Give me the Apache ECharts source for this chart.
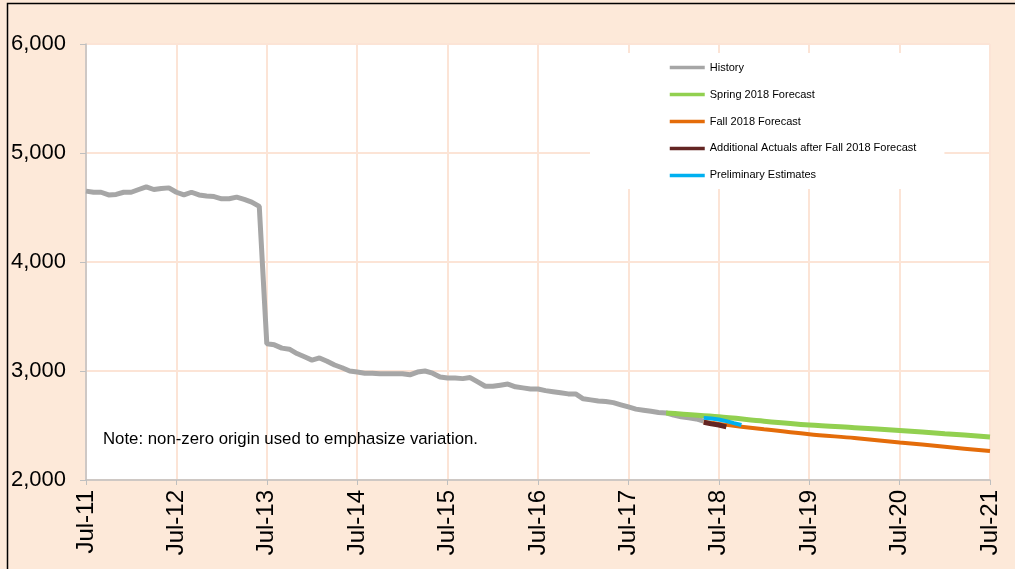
<!DOCTYPE html>
<html>
<head>
<meta charset="utf-8">
<script src="https://cdn.jsdelivr.net/npm/echarts@6/dist/echarts.min.js"></script>
<style>
html,body{margin:0;padding:0;background:#fde9d9;}
#main{width:1015px;height:569px;}
</style>
</head>
<body>
<div id="main"></div>
<script>
// month index: 0 = Jul-11, 12 = Jul-12, ...
var yearTicks = ['Jul-11','Jul-12','Jul-13','Jul-14','Jul-15','Jul-16','Jul-17','Jul-18','Jul-19','Jul-20','Jul-21'];

var historyValues = [
	4650,4640,4640,4615,4620,4640,4640,4665,4690,4665,4675,4680,
	4640,4615,4640,4615,4605,4600,4580,4580,4595,4575,4550,4510,
	3250,3240,3210,3200,3160,3130,3100,3120,3090,3055,3030,3000,
	2990,2980,2980,2975,2975,2975,2975,2965,2990,3000,2980,2945,
	2935,2935,2930,2940,2900,2860,2860,2870,2880,2855,2845,2835,
	2835,2820,2810,2800,2790,2790,2745,2735,2725,2720,2710,2690,
	2670,2650,2640,2630,2620,2615,2595,2580,2570,2560,2540
];

var springMonths = [77, 84, 90, 96, 102, 108, 114, 120];
var springValues = [2615, 2580, 2540, 2505, 2480, 2455, 2425, 2395];

var fallMonths = [82, 84, 90, 96, 102, 108, 114, 120];
var fallValues = [2535, 2515, 2465, 2420, 2385, 2345, 2305, 2265];

var actualsMonths = [82, 83, 84, 85];
var actualsValues = [2530, 2515, 2505, 2488];

var prelimMonths = [82, 83, 84, 85, 86, 87];
var prelimValues = [2570, 2565, 2555, 2540, 2522, 2505];

function pairs(months, values){
	var out = [];
	for(var i=0;i<values.length;i++){
		out.push([months ? months[i] : i, values[i]]);
	}
	return out;
}

var gridColor = '#fce4d6';
var axisColor = '#bfbfbf';

var option = {
	backgroundColor: '#fde9d9',
	animation: false,
	textStyle: {fontFamily: 'Liberation Sans, Arial, sans-serif'},
	grid: {
		left: 86, right: 25, top: 44, bottom: 89,
		show: true, backgroundColor: '#ffffff', borderWidth: 0
	},
	legend: {
		orient: 'vertical',
		left: 590, top: 53,
		padding: [9, 28, 8, 78],
		backgroundColor: '#ffffff',
		itemWidth: 35, itemHeight: 14, itemGap: 15.75,
		itemStyle: {opacity: 0},
		lineStyle: {width: 3.5},
		textStyle: {fontSize: 11, color: '#000'},
		data: ['History','Spring 2018 Forecast','Fall 2018 Forecast','Additional Actuals after Fall 2018 Forecast','Preliminary Estimates']
	},
	xAxis: {
		type: 'value',
		min: 0, max: 120, interval: 12,
		axisLine: {lineStyle: {color: axisColor, width: 1.5}},
		axisTick: {show: true, length: 5, lineStyle: {color: axisColor}},
		splitLine: {show: true, lineStyle: {color: gridColor, width: 2}},
		axisLabel: {
			rotate: 90, margin: 10, fontSize: 24, color: '#000',
			formatter: function(v){ return yearTicks[v/12]; }
		}
	},
	yAxis: {
		type: 'value',
		min: 2000, max: 6000, interval: 1000,
		axisLine: {show: true, lineStyle: {color: axisColor, width: 1.5}},
		axisTick: {show: true, length: 6, lineStyle: {color: axisColor}},
		splitLine: {show: true, lineStyle: {color: gridColor, width: 2}},
		axisLabel: {
			margin: 20, fontSize: 22, color: '#000',
			formatter: function(v){ return v.toLocaleString('en-US'); }
		}
	},
	graphic: [
		{type: 'text', left: 103, top: 431, z: 10,
		 style: {text: 'Note: non-zero origin used to emphasize variation.', fontSize: 16.8, fill: '#000', fontFamily: 'Liberation Sans, Arial, sans-serif'}},
		{type: 'rect', shape: {x: 7.5, y: 3.5, width: 1030, height: 600}, z: 100, silent: true,
		 style: {fill: 'none', stroke: '#000', lineWidth: 1.5}}
	],
	series: [
		{name: 'History', type: 'line', symbol: 'none', data: pairs(null, historyValues),
		 lineStyle: {color: '#a6a6a6', width: 5}, itemStyle: {color: '#a6a6a6'}},
		{name: 'Spring 2018 Forecast', type: 'line', symbol: 'none', smooth: 0.3, data: pairs(springMonths, springValues),
		 lineStyle: {color: '#92d050', width: 5}, itemStyle: {color: '#92d050'}},
		{name: 'Fall 2018 Forecast', type: 'line', symbol: 'none', smooth: 0.3, data: pairs(fallMonths, fallValues),
		 lineStyle: {color: '#e46c0a', width: 4}, itemStyle: {color: '#e46c0a'}},
		{name: 'Additional Actuals after Fall 2018 Forecast', type: 'line', symbol: 'none', data: pairs(actualsMonths, actualsValues),
		 lineStyle: {color: '#632523', width: 5}, itemStyle: {color: '#632523'}},
		{name: 'Preliminary Estimates', type: 'line', symbol: 'none', data: pairs(prelimMonths, prelimValues),
		 lineStyle: {color: '#00b0f0', width: 4}, itemStyle: {color: '#00b0f0'}}
	]
};

echarts.init(document.getElementById('main')).setOption(option);
</script>
</body>
</html>
